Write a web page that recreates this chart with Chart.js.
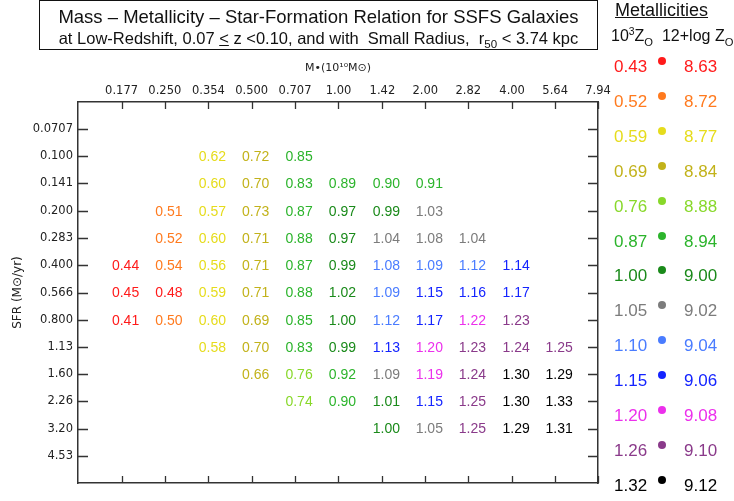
<!DOCTYPE html>
<html>
<head>
<meta charset="utf-8">
<script src="https://cdn.jsdelivr.net/npm/chart.js@4"></script>
<style>
  body { margin: 0; background: #fff; }
  #wrap { position: relative; width: 734px; height: 501px; overflow: hidden; font-family: "Liberation Sans", Arial, sans-serif; }
  #chart { position: absolute; left: 0; top: 0; }
  #title { position: absolute; left: 39px; top: 0px; width: 557px; height: 48px; border: 1.5px solid #111; text-align: center; color: #111; }
  #title .l1 { font-size: 18.5px; position: absolute; left: 0; right: 0; top: 5px; }
  #title .l2 { font-size: 16.5px; position: absolute; left: 0; right: 0; top: 28px; }
  #legend { position: absolute; left: 0; top: 0; width: 734px; height: 501px; }
  #legend .head { position: absolute; left: 615px; top: 0px; font-size: 18px; text-decoration: underline; color: #111; }
  #legend .sub { position: absolute; left: 611px; top: 26px; font-size: 16px; color: #111; white-space: nowrap; }
  #legend .z, #legend .lz { position: absolute; font-size: 17px; }
  #legend .dot { position: absolute; width: 8px; height: 8px; border-radius: 50%; }
  sub { font-size: 0.7em; }
</style>
</head>
<body>
<div id="wrap">
  <canvas id="chart" width="734" height="501"></canvas>
  <div id="title">
    <div class="l1">Mass &ndash; Metallicity &ndash; Star-Formation Relation for SSFS Galaxies</div>
    <div class="l2">at Low-Redshift, 0.07 <u>&lt;</u> z &lt;0.10, and with&nbsp; Small Radius,&nbsp; r<sub>50</sub> &lt; 3.74 kpc</div>
  </div>
  <div id="legend">
    <div class="head">Metallicities</div>
    <div class="sub">10<sup style="font-size:0.65em">3</sup>Z<sub>O</sub>&nbsp; 12+log Z<sub>O</sub></div>
  </div>
</div>
<script>
// mass bins (top axis), 10^10 Msun
const massTicks = [0.177, 0.250, 0.354, 0.500, 0.707, 1.00, 1.42, 2.00, 2.82, 4.00, 5.64, 7.94];
const massLabels = ['0.177', '0.250', '0.354', '0.500', '0.707', '1.00', '1.42', '2.00', '2.82', '4.00', '5.64', '7.94'];

// SFR bins (left axis), Msun/yr
const sfrTicks = [0.0707, 0.100, 0.141, 0.200, 0.283, 0.400, 0.566, 0.800, 1.13, 1.60, 2.26, 3.20, 4.53];
const sfrLabels = ['0.0707', '0.100', '0.141', '0.200', '0.283', '0.400', '0.566', '0.800', '1.13', '1.60', '2.26', '3.20', '4.53'];

// metallicity classes (legend)
const legendZ = ['0.43', '0.52', '0.59', '0.69', '0.76', '0.87', '1.00', '1.05', '1.10', '1.15', '1.20', '1.26', '1.32'];
const legendLogZ = ['8.63', '8.72', '8.77', '8.84', '8.88', '8.94', '9.00', '9.02', '9.04', '9.06', '9.08', '9.10', '9.12'];
const classColors = ['#ff1a1a', '#ff7a1e', '#e6dc1c', '#c2b21a', '#88d82a', '#2cb42c', '#1a8a1a',
                     '#7c7c7c', '#4a7cff', '#1424ff', '#ec30ec', '#8a3a8a', '#000000'];

const _ = null;
// 10^3 Z per cell, rows = SFR bins, cols = mass bins
const zGrid = [
  [_, _, _, _, _, _, _, _, _, _, _],
  [_, _, 0.62, 0.72, 0.85, _, _, _, _, _, _],
  [_, _, 0.60, 0.70, 0.83, 0.89, 0.90, 0.91, _, _, _],
  [_, 0.51, 0.57, 0.73, 0.87, 0.97, 0.99, 1.03, _, _, _],
  [_, 0.52, 0.60, 0.71, 0.88, 0.97, 1.04, 1.08, 1.04, _, _],
  [0.44, 0.54, 0.56, 0.71, 0.87, 0.99, 1.08, 1.09, 1.12, 1.14, _],
  [0.45, 0.48, 0.59, 0.71, 0.88, 1.02, 1.09, 1.15, 1.16, 1.17, _],
  [0.41, 0.50, 0.60, 0.69, 0.85, 1.00, 1.12, 1.17, 1.22, 1.23, _],
  [_, _, 0.58, 0.70, 0.83, 0.99, 1.13, 1.20, 1.23, 1.24, 1.25],
  [_, _, _, 0.66, 0.76, 0.92, 1.09, 1.19, 1.24, 1.30, 1.29],
  [_, _, _, _, 0.74, 0.90, 1.01, 1.15, 1.25, 1.30, 1.33],
  [_, _, _, _, _, _, 1.00, 1.05, 1.25, 1.29, 1.31],
  [_, _, _, _, _, _, _, _, _, _, _]
];
// metallicity class (legend index) of each cell
const classGrid = [
  [_, _, _, _, _, _, _, _, _, _, _],
  [_, _, 2, 3, 5, _, _, _, _, _, _],
  [_, _, 2, 3, 5, 5, 5, 5, _, _, _],
  [_, 1, 2, 3, 5, 6, 6, 7, _, _, _],
  [_, 1, 2, 3, 5, 6, 7, 7, 7, _, _],
  [0, 1, 2, 3, 5, 6, 8, 8, 8, 9, _],
  [0, 0, 2, 3, 5, 6, 8, 9, 9, 9, _],
  [0, 1, 2, 3, 5, 6, 8, 9, 10, 11, _],
  [_, _, 2, 3, 5, 6, 9, 10, 11, 11, 11],
  [_, _, _, 3, 4, 5, 7, 10, 11, 12, 12],
  [_, _, _, _, 4, 5, 6, 9, 11, 12, 12],
  [_, _, _, _, _, _, 6, 7, 11, 12, 12],
  [_, _, _, _, _, _, _, _, _, _, _]
];

// legend on the right
const legendEl = document.getElementById('legend');
legendZ.forEach((z, i) => {
  const y = 67 + i * 34.9;
  const a = document.createElement('div');
  a.className = 'z'; a.textContent = z;
  a.style.left = '614px'; a.style.top = (y - 10) + 'px'; a.style.color = classColors[i];
  const d = document.createElement('div');
  d.className = 'dot'; d.style.left = '658px'; d.style.top = (y - 10) + 'px'; d.style.background = classColors[i];
  const b = document.createElement('div');
  b.className = 'lz'; b.textContent = legendLogZ[i];
  b.style.left = '684px'; b.style.top = (y - 10) + 'px'; b.style.color = classColors[i];
  legendEl.append(a, d, b);
});

// one dataset per metallicity class
const datasets = classColors.map((c, k) => {
  const pts = [];
  zGrid.forEach((row, r) => row.forEach((v, m) => {
    if (v !== null && classGrid[r][m] === k) pts.push({x: massTicks[m], y: sfrTicks[r], z: v});
  }));
  return {label: legendZ[k], data: pts, pointRadius: 0, color: c};
});

// numbers drawn at each cell
const cellText = {
  id: 'cellText',
  afterDatasetsDraw(chart) {
    const ctx = chart.ctx;
    ctx.save();
    ctx.font = '14px "Liberation Sans", Arial, sans-serif';
    ctx.textAlign = 'center';
    ctx.textBaseline = 'middle';
    chart.data.datasets.forEach((ds, i) => {
      ctx.fillStyle = ds.color;
      chart.getDatasetMeta(i).data.forEach((el, j) => {
        ctx.fillText(ds.data[j].z.toFixed(2), el.x + 4, el.y + 1);
      });
    });
    ctx.restore();
  }
};

// tick marks point into the plot box
const innerTicks = {
  id: 'innerTicks',
  afterDraw(chart) {
    const {ctx, chartArea: a, scales} = chart;
    ctx.save();
    ctx.strokeStyle = '#333';
    ctx.lineWidth = 1.3;
    ctx.beginPath();
    massTicks.forEach(m => {
      const x = Math.round(scales.x.getPixelForValue(m)) + 0.5;
      ctx.moveTo(x, a.top); ctx.lineTo(x, a.top + 7);
      ctx.moveTo(x, a.bottom); ctx.lineTo(x, a.bottom - 7);
    });
    sfrTicks.forEach(s => {
      const y = Math.round(scales.y.getPixelForValue(s)) + 0.5;
      ctx.moveTo(a.left, y); ctx.lineTo(a.left + 10, y);
      ctx.moveTo(a.right, y); ctx.lineTo(a.right - 10, y);
    });
    ctx.stroke();
    ctx.restore();
  }
};

const tickFont = {family: '"DejaVu Sans", sans-serif', size: 11.5};
const frame = {display: true, color: '#333', width: 1.5};
const noGrid = {display: true, drawOnChartArea: false, drawTicks: false};

new Chart(document.getElementById('chart'), {
  type: 'scatter',
  data: {datasets},
  plugins: [cellText, innerTicks],
  options: {
    responsive: false,
    animation: false,
    layout: {padding: 0},
    plugins: {legend: {display: false}, tooltip: {enabled: false}},
    scales: {
      x: {
        type: 'logarithmic', position: 'top', min: 0.125, max: 7.94,
        afterBuildTicks: s => { s.ticks = massTicks.map(v => ({value: v})); },
        afterFit: s => { s.height = 102; },
        ticks: {callback: (v, i) => massLabels[i], font: tickFont, color: '#222', padding: 4, autoSkip: false, maxRotation: 0},
        grid: noGrid, border: frame,
        title: {display: true, text: 'M\u2022(10\u00b9\u2070M\u2299)', font: {family: '"DejaVu Sans", sans-serif', size: 11}, color: '#222', padding: {top: 62, bottom: 0}}
      },
      x2: {
        type: 'logarithmic', position: 'bottom', min: 0.125, max: 7.94,
        afterFit: s => { s.height = 18; },
        ticks: {display: false}, grid: noGrid, border: frame
      },
      y: {
        type: 'logarithmic', position: 'left', reverse: true, min: 0.05, max: 6.4,
        afterBuildTicks: s => { s.ticks = sfrTicks.map(v => ({value: v})); },
        afterFit: s => { s.width = 78; },
        ticks: {callback: (v, i) => sfrLabels[i], font: tickFont, color: '#222', padding: 5, autoSkip: false},
        grid: noGrid, border: frame,
        title: {display: true, text: 'SFR (M\u2299/yr)', font: {family: '"DejaVu Sans", sans-serif', size: 12}, color: '#222', padding: {top: 11, bottom: 0}}
      },
      y2: {
        type: 'logarithmic', position: 'right', reverse: true, min: 0.05, max: 6.4,
        afterFit: s => { s.width = 136; },
        ticks: {display: false}, grid: noGrid, border: frame
      }
    }
  }
});
</script>
</body>
</html>
